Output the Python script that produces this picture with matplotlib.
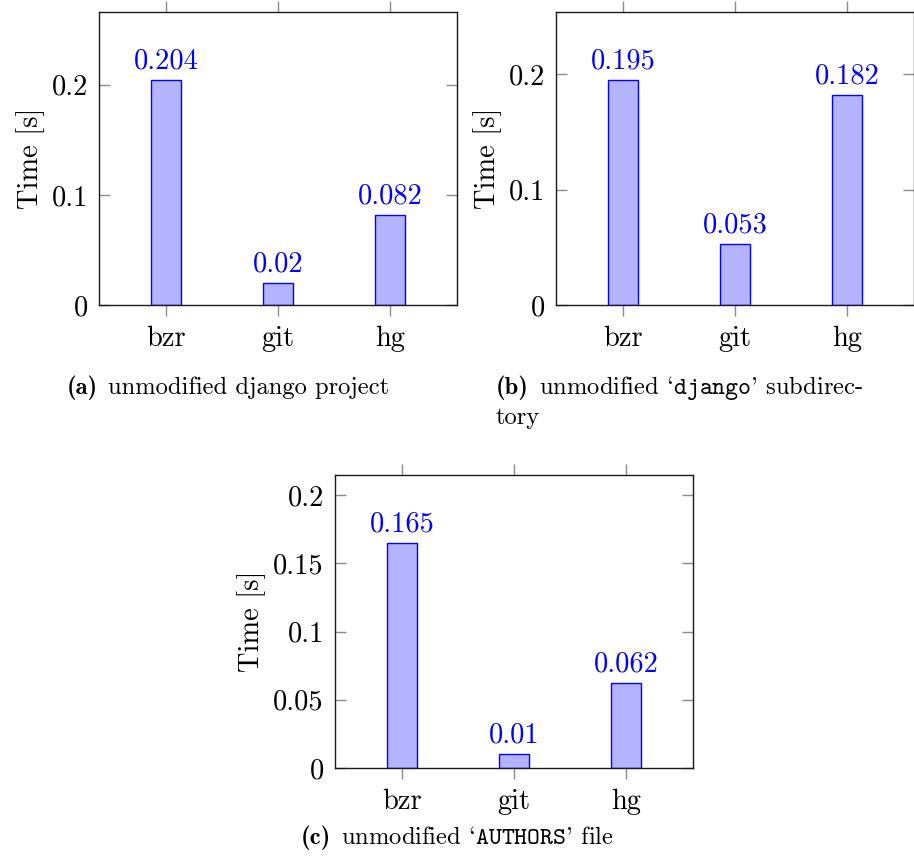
import matplotlib.pyplot as plt

plt.rcParams['font.family'] = ['cmr10', 'DejaVu Serif']
plt.rcParams['mathtext.fontset'] = 'cm'
plt.rcParams['axes.formatter.use_mathtext'] = True

# --- DATA ---
tools = ["bzr", "git", "hg"]
times_a = [0.204, 0.02, 0.082]
times_b = [0.195, 0.053, 0.182]
times_c = [0.165, 0.01, 0.062]

yticks_ab = [0, 0.1, 0.2]
yticks_c = [0, 0.05, 0.1, 0.15, 0.2]
ytick_labels_ab = ["0", "0.1", "0.2"]
ytick_labels_c = ["0", "0.05", "0.1", "0.15", "0.2"]

cap_tags = ["(a)", "(b)", "(c)"]
cap_texts = [
    "unmodified django project",
    r"unmodified `$\mathtt{django}$' subdirec-",
    r"unmodified `$\mathtt{AUTHORS}$' file",
]

W, H = 914, 866
FS = 20.5
CAP_FS = 17.7
fig = plt.figure(figsize=(W / 100, H / 100), dpi=100)

FILL = (0.7, 0.7, 1.0)
EDGE = (0.0, 0.0, 1.0)


def make_axes(left_px, bottom_px, vals, ymax, yticks, ylabels):
    ax = fig.add_axes([left_px / W, 1 - bottom_px / H, 358 / W, 293 / H])
    x = list(range(len(tools)))
    bars = ax.bar(x, vals, width=0.27, color=FILL, edgecolor=EDGE, linewidth=1.0)
    ax.bar_label(bars, labels=[f"{v:g}" for v in vals], padding=4,
                 color=EDGE, fontsize=FS)
    ax.set_xlim(-0.6, 2.6)
    ax.set_ylim(0, ymax)
    ax.set_xticks(x)
    ax.set_xticklabels(tools, fontsize=FS)
    ax.set_yticks(yticks)
    ax.set_yticklabels(ylabels, fontsize=FS)
    ax.set_ylabel("Time [s]", fontsize=FS, labelpad=5)
    ax.tick_params(axis='x', direction='out', top=True, length=8, width=1.0,
                   color='0.55', pad=7)
    ax.tick_params(axis='y', direction='in', right=True, length=8, width=1.0,
                   color='0.55', pad=8)
    for s in ax.spines.values():
        s.set_linewidth(1.0)
        s.set_color('0.1')
    return ax


make_axes(99, 305, times_a, 0.266, yticks_ab, ytick_labels_ab)
make_axes(556, 305, times_b, 0.2537, yticks_ab, ytick_labels_ab)
make_axes(335, 768, times_c, 0.2147, yticks_c, ytick_labels_c)

renderer = fig.canvas.get_renderer()


def caption(x_px, y_px, tag, text, center=False):
    # bold tag in cmb10, then the rest of the caption right after it
    t1 = fig.text(x_px / W, 1 - y_px / H, tag, fontsize=CAP_FS, family='cmb10',
                  ha='left', va='baseline')
    w1 = t1.get_window_extent(renderer).width
    t2 = fig.text((x_px + w1 + 10) / W, 1 - y_px / H, text, fontsize=CAP_FS,
                  ha='left', va='baseline')
    if center:
        w2 = t2.get_window_extent(renderer).width
        total = w1 + 10 + w2
        x0 = x_px - total / 2
        t1.set_x(x0 / W)
        t2.set_x((x0 + w1 + 10) / W)


caption(67, 394, cap_tags[0], cap_texts[0])
caption(496, 394, cap_tags[1], cap_texts[1])
fig.text(496 / W, 1 - 424 / H, "tory", fontsize=CAP_FS, ha='left', va='baseline')
caption(457, 844, cap_tags[2], cap_texts[2], center=True)

fig.savefig("out.png", dpi=100)
